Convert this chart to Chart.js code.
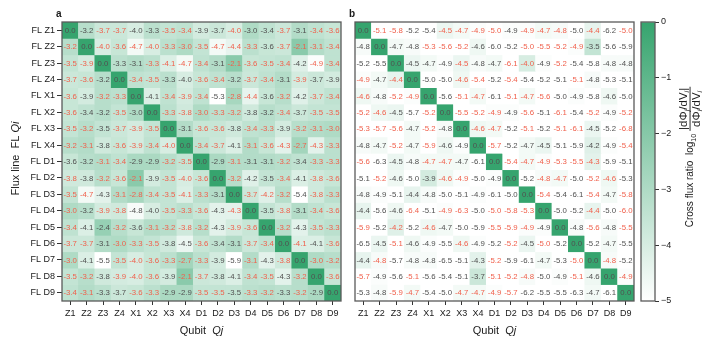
<!DOCTYPE html>
<html lang="en">
<head>
<meta charset="UTF-8">
<title>crossFluxRatio</title>
<script src="https://cdn.jsdelivr.net/npm/chart.js@4.4.1/dist/chart.umd.min.js"></script>
<style>
    body { margin: 0; background: #fff; }
    #wrap { position: relative; width: 714px; height: 348px; }
    canvas { position: absolute; top: 0; }
</style>
</head>
<body>
<div id="wrap">
    <canvas id="chartA" width="345" height="348" style="left:0"></canvas>
    <canvas id="chartB" width="293" height="348" style="left:345px"></canvas>
    <canvas id="chartC" width="76" height="348" style="left:638px"></canvas>
</div>

<script>

    const qubits = ['Z1','Z2','Z3','Z4','X1','X2','X3','X4','D1','D2','D3','D4','D5','D6','D7','D8','D9'];

    // panel a: log10 cross flux ratio, row = flux line FL Qi, column = qubit Qj
    const ratioA = [
        [ 0.0,-3.2,-3.7,-3.7,-4.0,-3.3,-3.5,-3.4,-3.9,-3.7,-4.0,-3.0,-3.4,-3.7,-3.1,-3.4,-3.6],
        [-3.2, 0.0,-4.0,-3.6,-4.7,-4.0,-3.3,-3.0,-3.5,-4.7,-4.4,-3.3,-3.6,-3.7,-2.1,-3.1,-3.4],
        [-3.5,-3.9, 0.0,-3.3,-3.1,-3.3,-4.1,-4.7,-3.4,-3.1,-2.1,-3.6,-3.5,-3.4,-4.2,-4.9,-3.4],
        [-3.7,-3.6,-3.2, 0.0,-3.4,-3.5,-3.3,-4.0,-3.6,-3.4,-3.2,-3.7,-3.4,-3.1,-3.9,-3.7,-3.9],
        [-3.6,-3.9,-3.2,-3.3, 0.0,-4.1,-3.4,-3.9,-3.4,-5.3,-2.8,-4.4,-3.6,-3.2,-4.2,-3.7,-3.4],
        [-3.6,-3.4,-3.2,-3.5,-3.0, 0.0,-3.3,-3.8,-3.0,-3.3,-3.2,-3.8,-3.2,-3.4,-3.7,-3.5,-3.5],
        [-3.5,-3.2,-3.5,-3.7,-3.9,-3.5, 0.0,-3.1,-3.6,-3.6,-3.8,-3.4,-3.3,-3.9,-3.2,-3.1,-3.0],
        [-3.2,-3.1,-3.8,-3.6,-3.9,-3.4,-4.0, 0.0,-3.4,-3.7,-4.1,-3.1,-3.6,-4.3,-2.7,-4.3,-3.3],
        [-3.6,-3.2,-3.1,-3.4,-2.9,-2.9,-3.2,-3.5, 0.0,-2.9,-3.1,-3.1,-3.1,-3.2,-3.4,-3.3,-3.3],
        [-3.8,-3.8,-3.2,-3.6,-2.1,-3.9,-3.5,-4.0,-3.6, 0.0,-3.2,-4.2,-3.5,-3.4,-4.1,-3.8,-3.6],
        [-3.5,-4.7,-4.3,-3.1,-2.8,-3.4,-3.5,-4.1,-3.3,-3.1, 0.0,-3.7,-4.2,-3.2,-5.4,-3.8,-3.3],
        [-3.0,-3.2,-3.9,-3.8,-4.8,-4.0,-3.5,-3.3,-3.6,-4.3,-4.3, 0.0,-3.5,-3.8,-3.1,-3.4,-3.6],
        [-3.4,-4.1,-2.4,-3.2,-3.6,-3.1,-3.2,-3.8,-3.2,-4.3,-3.9,-3.6, 0.0,-3.2,-4.3,-3.5,-3.3],
        [-3.7,-3.7,-3.1,-3.0,-3.3,-3.5,-3.8,-4.5,-3.6,-3.4,-3.1,-3.7,-3.4, 0.0,-4.1,-4.1,-3.6],
        [-3.0,-4.1,-5.5,-3.5,-4.0,-3.6,-3.3,-2.7,-3.3,-3.9,-5.9,-3.1,-4.3,-3.8, 0.0,-3.0,-3.2],
        [-3.5,-3.2,-3.8,-3.9,-4.0,-3.6,-3.9,-2.1,-3.7,-3.8,-4.1,-3.4,-3.5,-4.3,-3.2, 0.0,-3.6],
        [-3.4,-3.1,-3.3,-3.7,-3.6,-3.3,-2.9,-2.9,-3.5,-3.5,-3.5,-3.3,-3.2,-3.3,-3.2,-2.9, 0.0]
    ];

    // panel b: same layout
    const ratioB = [
        [ 0.0,-5.1,-5.8,-5.2,-5.4,-4.5,-4.7,-4.9,-5.0,-4.9,-4.9,-4.7,-4.8,-5.0,-4.4,-6.2,-5.0],
        [-4.8, 0.0,-4.7,-4.8,-5.3,-5.6,-5.2,-4.6,-6.0,-5.2,-5.0,-5.5,-5.2,-4.9,-3.5,-5.6,-5.9],
        [-5.2,-5.5, 0.0,-4.5,-4.7,-4.9,-4.5,-4.8,-4.7,-6.1,-4.0,-4.9,-5.2,-5.4,-5.8,-4.8,-4.8],
        [-4.9,-4.7,-4.4, 0.0,-5.0,-5.0,-4.6,-5.4,-5.2,-5.4,-5.4,-5.2,-5.1,-5.1,-4.8,-5.3,-5.1],
        [-4.6,-4.8,-5.2,-4.9, 0.0,-5.6,-5.1,-4.7,-6.1,-5.1,-4.7,-5.6,-5.0,-4.9,-5.8,-4.6,-5.0],
        [-5.2,-4.6,-4.5,-5.7,-5.2, 0.0,-5.5,-5.2,-4.9,-4.9,-5.6,-5.1,-6.1,-5.4,-5.2,-4.9,-5.2],
        [-5.3,-5.7,-5.6,-4.7,-5.2,-4.8, 0.0,-4.6,-4.7,-5.2,-5.1,-5.2,-5.1,-6.1,-4.5,-5.2,-6.8],
        [-4.8,-4.7,-5.2,-4.7,-5.9,-4.6,-4.9, 0.0,-5.7,-5.2,-4.7,-4.5,-5.1,-5.9,-4.2,-4.9,-5.4],
        [-5.6,-6.3,-4.5,-4.8,-4.7,-4.7,-4.7,-6.1, 0.0,-5.4,-4.7,-4.9,-5.3,-5.5,-4.3,-5.9,-5.1],
        [-5.1,-5.2,-4.6,-5.0,-3.9,-4.6,-4.9,-5.0,-4.9, 0.0,-5.2,-4.8,-4.7,-5.0,-5.2,-4.6,-5.3],
        [-4.8,-4.9,-5.1,-4.4,-4.8,-5.0,-5.1,-4.9,-6.1,-5.0, 0.0,-5.4,-5.4,-6.1,-5.4,-4.7,-5.8],
        [-4.4,-5.6,-4.6,-6.4,-5.1,-4.9,-6.3,-5.0,-5.0,-5.8,-5.3, 0.0,-5.0,-5.2,-4.4,-5.0,-6.0],
        [-5.9,-5.2,-4.2,-5.2,-4.6,-4.7,-5.0,-5.9,-5.5,-5.9,-4.9,-4.9, 0.0,-4.8,-5.6,-4.8,-5.5],
        [-6.5,-4.5,-5.1,-4.6,-4.9,-5.5,-4.6,-4.9,-5.2,-5.2,-4.5,-5.0,-5.2, 0.0,-5.2,-4.7,-5.5],
        [-4.4,-4.8,-5.7,-4.8,-4.8,-6.5,-5.1,-4.3,-5.2,-5.9,-6.1,-4.7,-5.3,-5.0, 0.0,-4.8,-5.2],
        [-5.7,-4.9,-5.6,-5.1,-5.6,-5.4,-5.1,-3.7,-5.1,-5.2,-4.8,-5.0,-4.9,-5.1,-4.6, 0.0,-4.9],
        [-5.3,-4.8,-5.9,-4.7,-5.4,-5.0,-4.7,-4.7,-4.9,-5.7,-6.2,-5.5,-5.5,-6.3,-4.7,-6.1, 0.0]
    ];

    // cells whose number is flagged (printed in red), one string per row
    const flagA = [
        '00110011001001011', '10111111111101111', '11000111101111011', '11001100110110100',
        '10110011101101011', '10010011111001011', '11011100110110111', '11011110110111111',
        '00110011001001011', '10111011101001011', '11011111100111011', '10110011101001011',
        '10010111101101011', '11011100100110101', '10011111100101011', '11011101100110101',
        '11001100110110100'
    ];
    const flagB = [
        '01100111101110101', '00001110001111000', '00000010011010000', '10100011010001000',
        '10110011011100000', '11001011101010101', '11101001101011001', '00101000100000001',
        '10001100011111100', '01000110000110110', '00000000000100101', '00010110111000101',
        '10101000111000101', '00100010010100000', '01000000100001010', '10010000111001001',
        '00110011110000000'
    ];

    const cbarTicks = [0, -1, -2, -3, -4, -5];

    const FONT = '"Liberation Sans", Arial, sans-serif';
    const GREEN = [54, 164, 110];
    Chart.defaults.font.family = FONT;

    function colorFor(v) {
        const t = Math.max(0, Math.min(1, (v + 5) / 5));
        const c = GREEN.map(g => Math.round(255 + (g - 255) * t));
        return 'rgb(' + c.join(',') + ')';
    }

    // draws runs of text one after another, returns total width
    function runs(ctx, parts, x, y, measureOnly) {
        let w = 0;
        parts.forEach(p => {
            ctx.font = p.f;
            if (!measureOnly) ctx.fillText(p.t, x + w, y + (p.dy || 0));
            w += ctx.measureText(p.t).width + (p.sp || 0);
        });
        return w;
    }

    const framePlugin = {
        id: 'frame',
        afterDraw(chart) {
            const {ctx, chartArea: a} = chart;
            ctx.save();
            ctx.strokeStyle = '#5a5a5a';
            ctx.lineWidth = 1.3;
            ctx.strokeRect(a.left, a.top, a.right - a.left, a.bottom - a.top);
            ctx.restore();
        }
    };

    function cellText(values, flags) {
        return {
            id: 'cellText',
            afterDatasetsDraw(chart) {
                const ctx = chart.ctx;
                ctx.save();
                ctx.font = '7.8px ' + FONT;
                ctx.textAlign = 'center';
                ctx.textBaseline = 'middle';
                chart.data.datasets.forEach((ds, r) => {
                    chart.getDatasetMeta(r).data.forEach((el, c) => {
                        ctx.fillStyle = flags[r][c] === '1' ? '#f0604c' : '#505050';
                        ctx.fillText(values[r][c].toFixed(1), el.x, (el.y + el.base) / 2 + 0.5);
                    });
                });
                ctx.restore();
            }
        };
    }

    const titles = {
        id: 'titles',
        afterDraw(chart) {
            const ctx = chart.ctx;
            const a = chart.chartArea;
            const cx = (a.left + a.right) / 2;
            ctx.save();
            ctx.fillStyle = '#1a1a1a';
            ctx.textBaseline = 'alphabetic';
            const xt = [{t: 'Qubit  ', f: '11px ' + FONT}, {t: 'Qj', f: 'italic 11px ' + FONT}];
            const w = runs(ctx, xt, 0, 0, true);
            runs(ctx, xt, cx - w / 2, 334);
            ctx.font = 'bold 10px ' + FONT;
            ctx.fillText(chart.canvas.id === 'chartA' ? 'a' : 'b', a.left - 6, 17);
            if (chart.canvas.id === 'chartA') {
                const yt = [{t: 'Flux line  FL ', f: '11px ' + FONT}, {t: 'Qi', f: 'italic 11px ' + FONT}];
                const wy = runs(ctx, yt, 0, 0, true);
                ctx.translate(19, (a.top + a.bottom) / 2 - 3);
                ctx.rotate(-Math.PI / 2);
                runs(ctx, yt, -wy / 2, 0);
            }
            ctx.restore();
        }
    };

    function heatmap(id, values, flags, showY, padLeft) {
        new Chart(document.getElementById(id), {
            type: 'bar',
            data: {
                labels: qubits,
                datasets: qubits.map((q, r) => ({
                    label: 'FL ' + q,
                    data: qubits.map(() => [r, r + 1]),
                    backgroundColor: values[r].map(colorFor),
                    borderWidth: 0,
                    barPercentage: 1,
                    categoryPercentage: 1,
                    grouped: false
                }))
            },
            options: {
                responsive: false,
                animation: false,
                layout: {padding: {left: padLeft, top: 22, right: 4, bottom: 0}},
                plugins: {legend: {display: false}, tooltip: {enabled: false}},
                scales: {
                    x: {
                        grid: {offset: false, drawOnChartArea: false, tickLength: 4, color: '#333'},
                        border: {display: false},
                        ticks: {autoSkip: false, maxRotation: 0, padding: 3, color: '#1a1a1a', font: {size: 9}},
                        afterFit: s => { s.height = 47; }
                    },
                    y: {
                        type: 'linear', min: 0, max: 17, reverse: true,
                        display: showY,
                        afterBuildTicks: s => { s.ticks = qubits.map((q, i) => ({value: i + 0.5})); },
                        afterFit: s => { s.width = showY ? 62 : 0; },
                        grid: {drawOnChartArea: false, tickLength: 5, color: '#333'},
                        border: {display: false},
                        ticks: {autoSkip: false, padding: 2, color: '#1a1a1a', font: {size: 9},
                            callback: (v, i) => 'FL ' + qubits[i]}
                    }
                }
            },
            plugins: [cellText(values, flags), framePlugin, titles]
        });
    }

    heatmap('chartA', ratioA, flagA, true, 0);
    heatmap('chartB', ratioB, flagB, false, 10);

    const cbarTitle = {
        id: 'cbarTitle',
        afterDraw(chart) {
            const ctx = chart.ctx;
            ctx.save();
            ctx.fillStyle = '#1a1a1a';
            ctx.textBaseline = 'alphabetic';
            const main = [
                {t: 'Cross flux ratio  log', f: '10px ' + FONT},
                {t: '10', f: '7px ' + FONT, dy: 2.5, sp: 3}
            ];
            const num = [
                {t: '|d\u03A6', f: '11.5px ' + FONT}, {t: 'j', f: 'italic 7.5px ' + FONT, dy: 2},
                {t: '/dV', f: '11.5px ' + FONT}, {t: 'i', f: 'italic 7.5px ' + FONT, dy: 2},
                {t: '|', f: '11.5px ' + FONT}
            ];
            const den = [
                {t: 'd\u03A6', f: '11.5px ' + FONT}, {t: 'i', f: 'italic 7.5px ' + FONT, dy: 2},
                {t: '/dV', f: '11.5px ' + FONT}, {t: 'i', f: 'italic 7.5px ' + FONT, dy: 2}
            ];
            const wm = runs(ctx, main, 0, 0, true);
            const wn = runs(ctx, num, 0, 0, true);
            const wd = runs(ctx, den, 0, 0, true);
            const wf = Math.max(wn, wd) + 2;
            const total = wm + wf;
            ctx.translate(689 - 638, 157);
            ctx.rotate(-Math.PI / 2);
            const x0 = -total / 2;
            runs(ctx, main, x0, 4);
            const fx = x0 + wm;
            runs(ctx, num, fx + (wf - wn) / 2, -2.5);
            runs(ctx, den, fx + (wf - wd) / 2, 10.5);
            ctx.fillRect(fx, 0.6, wf, 0.9);
            ctx.restore();
        }
    };

    new Chart(document.getElementById('chartC'), {
        type: 'bar',
        data: {
            labels: [''],
            datasets: [{
                data: [[cbarTicks[cbarTicks.length - 1], cbarTicks[0]]],
                backgroundColor: (c) => {
                    const a = c.chart.chartArea;
                    if (!a) return colorFor(-2.5);
                    const g = c.chart.ctx.createLinearGradient(0, a.bottom, 0, a.top);
                    g.addColorStop(0, colorFor(-5));
                    g.addColorStop(1, colorFor(0));
                    return g;
                },
                borderWidth: 0,
                barPercentage: 1,
                categoryPercentage: 1
            }]
        },
        options: {
            responsive: false,
            animation: false,
            layout: {padding: {left: 3, top: 22, right: 0, bottom: 47}},
            plugins: {legend: {display: false}, tooltip: {enabled: false}},
            scales: {
                x: {display: false},
                y: {
                    position: 'right', min: -5, max: 0,
                    afterBuildTicks: s => { s.ticks = cbarTicks.map(v => ({value: v})); },
                    afterFit: s => { s.width = 59; },
                    grid: {drawOnChartArea: false, tickLength: 4, color: '#333'},
                    border: {display: false},
                    ticks: {padding: 2, color: '#1a1a1a', font: {size: 9},
                        callback: v => v < 0 ? '\u2212' + (-v) : '0'}
                }
            }
        },
        plugins: [framePlugin, cbarTitle]
    });

</script>

</body>
</html>
